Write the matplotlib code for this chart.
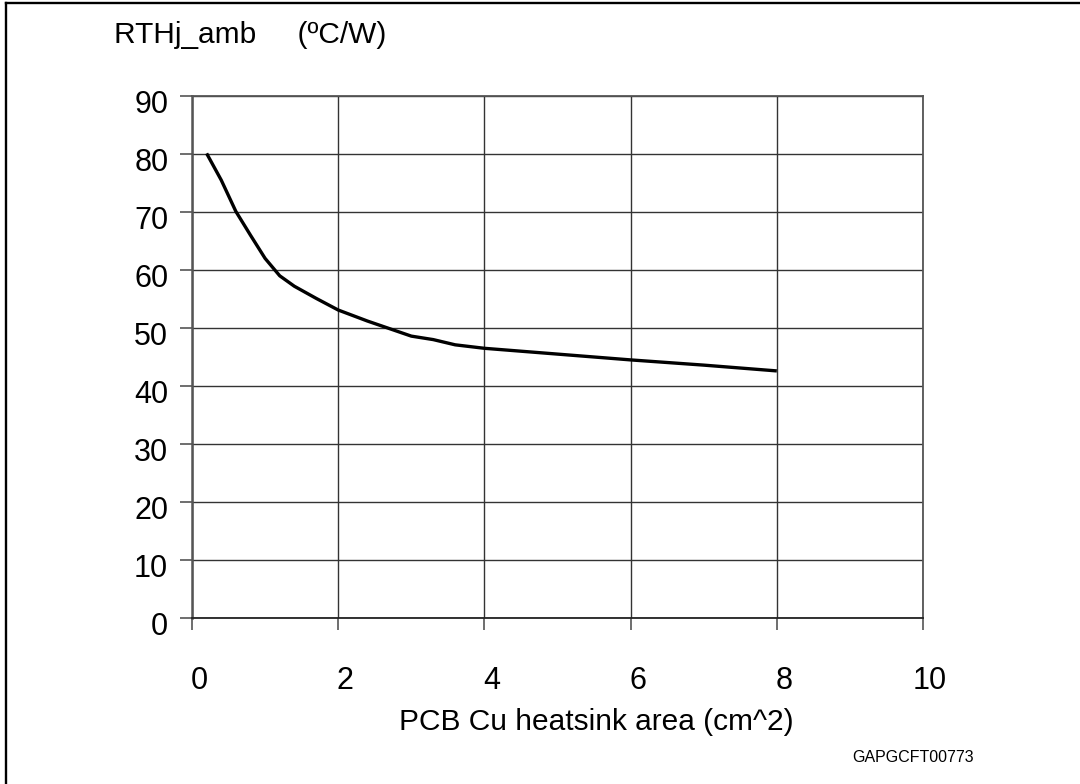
import matplotlib.pyplot as plt
from matplotlib.transforms import ScaledTranslation
from matplotlib.lines import Line2D

plt.rcParams["font.family"] = ["Liberation Sans", "DejaVu Sans"]

# curve
area = [0.2, 0.4, 0.6, 0.8, 1.0, 1.2, 1.4, 1.7, 2.0, 2.4, 2.7, 3.0, 3.3, 3.6, 4.0, 5.0, 6.0, 7.0, 8.0]
rth = [80.1, 75.5, 70.1, 66.0, 62.0, 59.0, 57.2, 55.1, 53.1, 51.2, 49.9, 48.6, 48.0, 47.1, 46.5, 45.5, 44.5, 43.6, 42.6]

x_ticks = [0, 2, 4, 6, 8, 10]
y_ticks = [0, 10, 20, 30, 40, 50, 60, 70, 80, 90]

fig = plt.figure(figsize=(10.8, 7.84), dpi=100)
ax = fig.add_axes([192 / 1080, 1 - 618 / 784, 731 / 1080, 522 / 784])

ax.plot(area, rth, color="black", linewidth=2.4, solid_capstyle="butt")

ax.set_xlim(0, 10)
ax.set_ylim(0, 90)
ax.set_xticks(x_ticks)
ax.set_yticks(y_ticks)
ax.grid(True, color="#333333", linewidth=1.0)
for s in ax.spines.values():
    s.set_color("#555555")
    s.set_linewidth(1.3)
ax.spines["left"].set_linewidth(1.8)
ax.spines["bottom"].set_color("#222222")

ax.tick_params(axis="both", direction="out", length=8.6, width=1.2, color="#555555", labelsize=22)
ax.tick_params(axis="x", pad=26)
ax.tick_params(axis="y", pad=8.5)

dx = ScaledTranslation(7 / 100, 0, fig.dpi_scale_trans)
dy = ScaledTranslation(0, -5.5 / 100, fig.dpi_scale_trans)
for lab in ax.get_xticklabels():
    lab.set_transform(lab.get_transform() + dx)
for lab in ax.get_yticklabels():
    lab.set_transform(lab.get_transform() + dy)

fig.text(114 / 1080, 1 - 43 / 784, "RTHj_amb     (ºC/W)", fontsize=21.5, ha="left", va="baseline")
fig.text(596 / 1080, 1 - 730 / 784, "PCB Cu heatsink area (cm^2)", fontsize=21.5, ha="center", va="baseline")
fig.text(913 / 1080, 1 - 758 / 784, "GAPGCFT00773", fontsize=11.5, ha="center", va="center")

# outer frame (right and bottom edges fall outside the picture)
fig.add_artist(Line2D([5.5 / 1080, 5.5 / 1080], [0, 1 - 3 / 784], color="black", linewidth=1.7, transform=fig.transFigure))
fig.add_artist(Line2D([5.5 / 1080, 1], [1 - 3 / 784, 1 - 3 / 784], color="black", linewidth=1.7, transform=fig.transFigure))

fig.savefig("out.png", dpi=100)
